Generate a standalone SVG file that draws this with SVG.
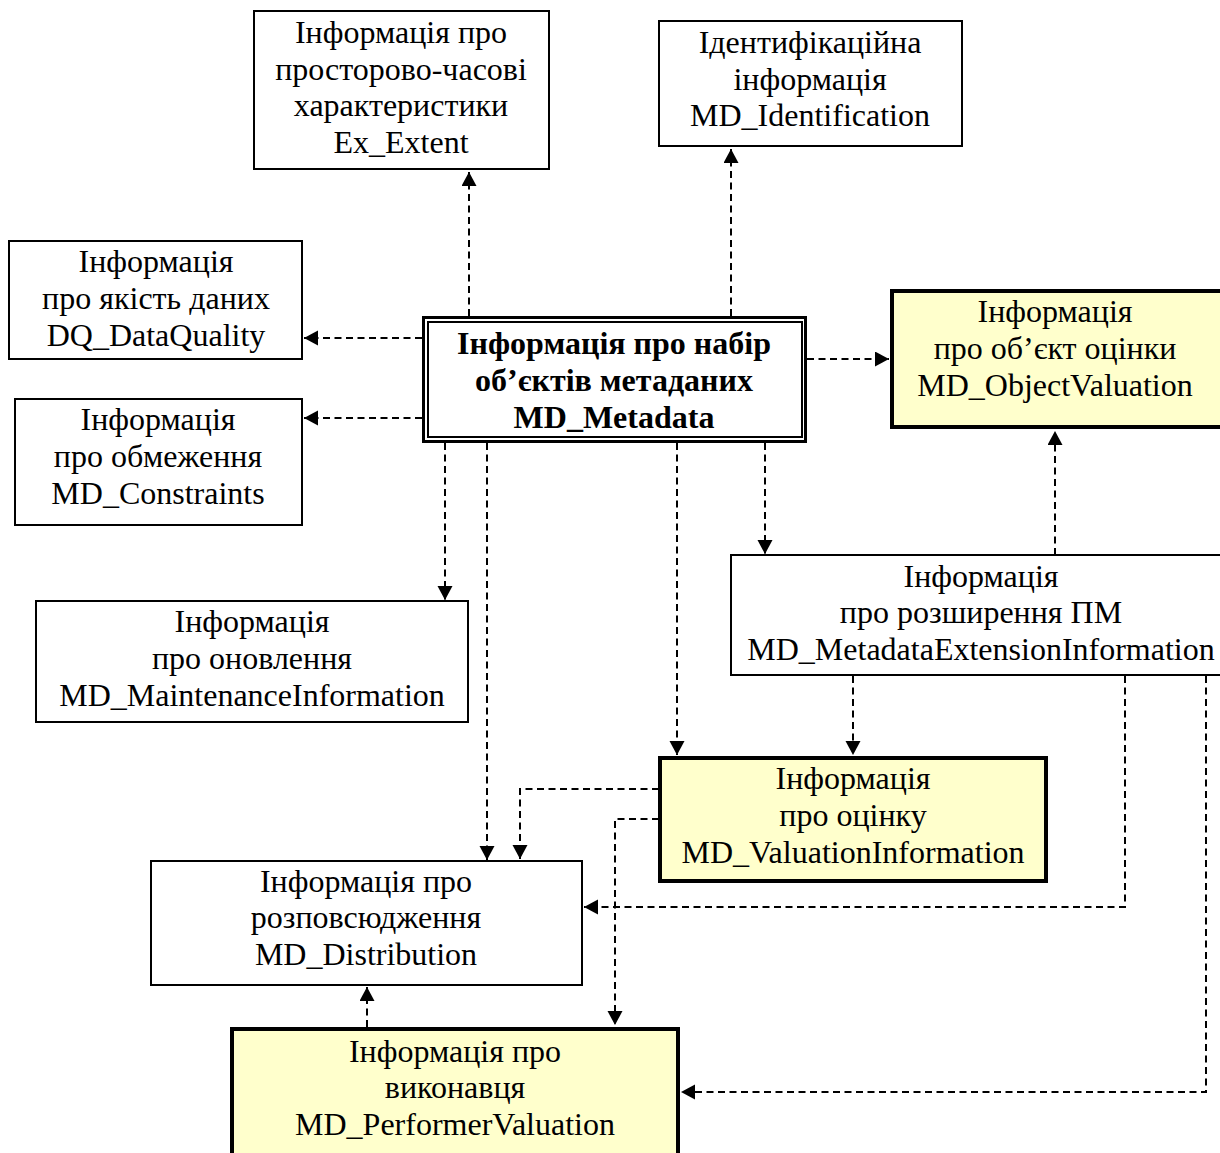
<svg xmlns="http://www.w3.org/2000/svg" width="1220" height="1153" viewBox="0 0 1220 1153">
<style>
  .box{fill:#fff;stroke:#000;stroke-width:2}
  .ybox{fill:#FFFFCC;stroke:#000;stroke-width:4}
  text{font-family:"Liberation Serif","Times New Roman",serif;font-size:32px;text-anchor:middle;fill:#000}
  .b{font-weight:bold}
  .c{fill:none;stroke:#000;stroke-width:2;stroke-dasharray:7 4.5;marker-end:url(#ah)}
</style>
<defs>
  <marker id="ah" markerUnits="userSpaceOnUse" markerWidth="16" markerHeight="16" refX="14" refY="7.5" orient="auto">
    <path d="M0,0 L14,7.5 L0,15 z" fill="#000"/>
  </marker>
</defs>
<rect width="1220" height="1153" fill="#fff"/>
<g id="connectors">
  <path class="c" d="M469 316 V172"/>
  <path class="c" d="M731 316 V149"/>
  <path class="c" d="M422 338 H304"/>
  <path class="c" d="M422 418 H304"/>
  <path class="c" d="M807 359 H889"/>
  <path class="c" d="M445 443 V600"/>
  <path class="c" d="M487 443 V860"/>
  <path class="c" d="M677 443 V755"/>
  <path class="c" d="M765 443 V554"/>
  <path class="c" d="M1055 555 V431"/>
  <path class="c" d="M853 676 V755"/>
  <path class="c" d="M1125 676 V907 H584"/>
  <path class="c" d="M1206 676 V1092 H681"/>
  <path class="c" d="M659 789 H520 V859"/>
  <path class="c" d="M659 819 H615 V1025"/>
  <path class="c" d="M367 1027 V987"/>
</g>
<g id="n-extent">
  <rect class="box" x="254" y="11" width="295" height="158"/>
  <text x="401" y="43">Інформація про</text>
  <text x="401" y="80">просторово-часові</text>
  <text x="401" y="116">характеристики</text>
  <text x="401" y="153">Ex_Extent</text>
</g>
<g id="n-identification">
  <rect class="box" x="659" y="21" width="303" height="125"/>
  <text x="810" y="53">Ідентифікаційна</text>
  <text x="810" y="90">інформація</text>
  <text x="810" y="126">MD_Identification</text>
</g>
<g id="n-dataquality">
  <rect class="box" x="9" y="241" width="293" height="118"/>
  <text x="156" y="272">Інформація</text>
  <text x="156" y="309">про якість даних</text>
  <text x="156" y="346">DQ_DataQuality</text>
</g>
<g id="n-constraints">
  <rect class="box" x="15" y="399" width="287" height="126"/>
  <text x="158" y="430">Інформація</text>
  <text x="158" y="467">про обмеження</text>
  <text x="158" y="504">MD_Constraints</text>
</g>
<g id="n-metadata">
  <rect x="423.5" y="317.5" width="382" height="124" fill="#fff" stroke="#000" stroke-width="3"/>
  <rect x="428" y="322" width="374" height="115" fill="none" stroke="#000" stroke-width="2"/>
  <text class="b" x="614" y="354">Інформація про набір</text>
  <text class="b" x="614" y="391">об’єктів метаданих</text>
  <text class="b" x="614" y="428">MD_Metadata</text>
</g>
<g id="n-objectvaluation">
  <rect class="ybox" x="892" y="291" width="330" height="136"/>
  <text x="1055" y="322">Інформація</text>
  <text x="1055" y="359">про об’єкт оцінки</text>
  <text x="1055" y="396">MD_ObjectValuation</text>
</g>
<g id="n-extension">
  <rect class="box" x="731" y="555" width="500" height="120"/>
  <text x="981" y="587">Інформація</text>
  <text x="981" y="623">про розширення ПМ</text>
  <text x="981" y="660">MD_MetadataExtensionInformation</text>
</g>
<g id="n-maintenance">
  <rect class="box" x="36" y="601" width="432" height="121"/>
  <text x="252" y="632">Інформація</text>
  <text x="252" y="669">про оновлення</text>
  <text x="252" y="706">MD_MaintenanceInformation</text>
</g>
<g id="n-valuation">
  <rect class="ybox" x="660" y="758" width="386" height="123"/>
  <text x="853" y="789">Інформація</text>
  <text x="853" y="826">про оцінку</text>
  <text x="853" y="863">MD_ValuationInformation</text>
</g>
<g id="n-distribution">
  <rect class="box" x="151" y="861" width="431" height="124"/>
  <text x="366" y="892">Інформація про</text>
  <text x="366" y="928">розповсюдження</text>
  <text x="366" y="965">MD_Distribution</text>
</g>
<g id="n-performer">
  <rect class="ybox" x="232" y="1029" width="446" height="140"/>
  <text x="455" y="1062">Інформація про</text>
  <text x="455" y="1098">виконавця</text>
  <text x="455" y="1135">MD_PerformerValuation</text>
</g>
</svg>
